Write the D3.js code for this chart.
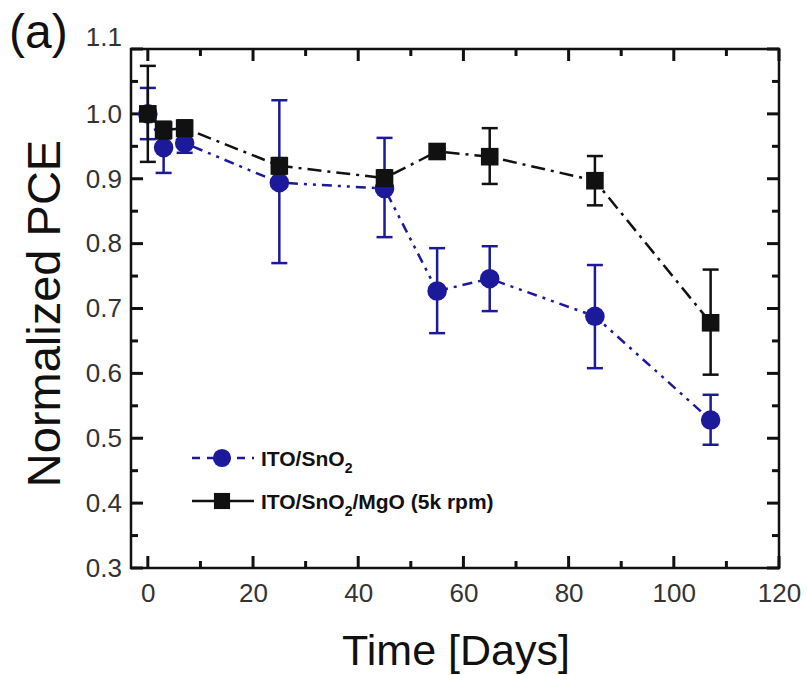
<!DOCTYPE html>
<html>
<head>
<meta charset="utf-8">
<script src="https://cdn.jsdelivr.net/npm/d3@7"></script>
<style>
  body { margin: 0; background: #fff; }
  svg { font-family: Arial, "Liberation Sans", sans-serif; }
</style>
</head>
<body>
<div id="chart"></div>
<script>
'use strict';

// days of measurement
const days = [0, 3, 7, 25, 45, 55, 65, 85, 107];

// ITO/SnO2
const snoMean = [1.0, 0.948, 0.955, 0.894, 0.885, 0.727, 0.746, 0.688, 0.528];
const snoLow = [0.961, 0.909, 0.94, 0.77, 0.81, 0.662, 0.696, 0.608, 0.49];
const snoHigh = [1.04, 0.985, 0.97, 1.021, 0.963, 0.793, 0.796, 0.767, 0.567];

// ITO/SnO2/MgO (5k rpm)
const mgoMean = [1.0, 0.975, 0.978, 0.92, 0.901, 0.942, 0.934, 0.897, 0.678];
const mgoLow = [0.926, 0.962, 0.966, 0.908, 0.889, 0.935, 0.892, 0.859, 0.598];
const mgoHigh = [1.074, 0.988, 0.99, 0.932, 0.913, 0.949, 0.978, 0.935, 0.76];

const xTicks = [0, 20, 40, 60, 80, 100, 120];
const xMinor = [10, 30, 50, 70, 90, 110];
const yTicks = [0.3, 0.4, 0.5, 0.6, 0.7, 0.8, 0.9, 1.0, 1.1];
const yMinor = [0.35, 0.45, 0.55, 0.65, 0.75, 0.85, 0.95, 1.05];

const width = 807, height = 675;
const margin = { left: 131, right: 28, top: 49, bottom: 107 };
const bottomY = height - margin.bottom;
const rightX = width - margin.right;

const svg = d3.select('#chart').append('svg')
  .attr('width', width)
  .attr('height', height);

const x = d3.scaleLinear().domain([-3.2, 120]).range([margin.left, rightX]);
const y = d3.scaleLinear().domain([0.3, 1.1]).range([bottomY, margin.top]);

const blue = '#1c1a9a';
const black = '#111';

// tick labels through d3 axes (tick marks drawn separately, inward)
const xAxis = svg.append('g')
  .attr('transform', `translate(0,${bottomY})`)
  .call(d3.axisBottom(x).tickValues(xTicks).tickSize(0).tickPadding(14).tickFormat(d3.format('d')));
xAxis.select('.domain').remove();
xAxis.selectAll('.tick text').attr('font-size', 26).attr('fill', '#333').attr('dy', '0.75em');

const yAxis = svg.append('g')
  .attr('transform', `translate(${margin.left},0)`)
  .call(d3.axisLeft(y).tickValues(yTicks).tickSize(0).tickPadding(9).tickFormat(d3.format('.1f')));
yAxis.select('.domain').remove();
yAxis.selectAll('.tick text').attr('font-size', 26).attr('fill', '#333')
  .attr('dy', d => d === 1.1 ? '-0.15em' : '0.32em');

// frame
svg.append('rect')
  .attr('x', margin.left).attr('y', margin.top)
  .attr('width', rightX - margin.left).attr('height', bottomY - margin.top)
  .attr('fill', 'none').attr('stroke', '#111').attr('stroke-width', 2.5);

// inward tick marks on all four sides
const tickMarks = svg.append('g').attr('class', 'tickmarks');
function xMarks(values, len) {
  [[bottomY, -len], [margin.top, len]].forEach(([y0, dir]) => {
    tickMarks.selectAll(null).data(values).join('line')
      .attr('x1', d => x(d)).attr('x2', d => x(d))
      .attr('y1', y0).attr('y2', y0 + dir)
      .attr('stroke', '#111').attr('stroke-width', 3);
  });
}
function yMarks(values, len) {
  [[margin.left, len], [rightX, -len]].forEach(([x0, dir]) => {
    tickMarks.selectAll(null).data(values).join('line')
      .attr('y1', d => y(d)).attr('y2', d => y(d))
      .attr('x1', x0).attr('x2', x0 + dir)
      .attr('stroke', '#111').attr('stroke-width', 3);
  });
}
xMarks(xTicks, 12);
xMarks(xMinor, 7);
yMarks(yTicks, 12);
yMarks(yMinor, 7);

function drawSeries(mean, low, high, color, dash, shape) {
  const pts = days.map((d, i) => ({ d: d, m: mean[i], lo: low[i], hi: high[i] }));
  const g = svg.append('g');
  g.append('path')
    .datum(pts)
    .attr('fill', 'none')
    .attr('stroke', color)
    .attr('stroke-width', 2.5)
    .attr('stroke-dasharray', dash)
    .attr('d', d3.line().x(p => x(p.d)).y(p => y(p.m)));

  const eb = g.selectAll('g.err').data(pts).join('g').attr('class', 'err')
    .attr('stroke', color).attr('stroke-width', 2.5);
  eb.append('line')
    .attr('x1', p => x(p.d)).attr('x2', p => x(p.d))
    .attr('y1', p => y(p.lo)).attr('y2', p => y(p.hi));
  eb.append('line')
    .attr('x1', p => x(p.d) - 8).attr('x2', p => x(p.d) + 8)
    .attr('y1', p => y(p.lo)).attr('y2', p => y(p.lo));
  eb.append('line')
    .attr('x1', p => x(p.d) - 8).attr('x2', p => x(p.d) + 8)
    .attr('y1', p => y(p.hi)).attr('y2', p => y(p.hi));

  g.selectAll('path.mark').data(pts).join('path').attr('class', 'mark')
    .attr('transform', p => `translate(${x(p.d)},${y(p.m)})`)
    .attr('d', d3.symbol().type(shape).size(shape === d3.symbolSquare ? 310 : 300))
    .attr('fill', color);
}

drawSeries(snoMean, snoLow, snoHigh, blue, '10,6,3,6,3,6', d3.symbolCircle);
drawSeries(mgoMean, mgoLow, mgoHigh, black, '14,6,3,6', d3.symbolSquare);

// legend
const legend = svg.append('g').attr('font-weight', 'bold').attr('font-size', 21);
const legendRows = [
  { color: blue, shape: d3.symbolCircle, dash: '8,7', label: 'ITO/SnO', sub: '2', rest: '', y: 458 },
  { color: black, shape: d3.symbolSquare, dash: null, label: 'ITO/SnO', sub: '2', rest: '/MgO (5k rpm)', y: 501 }
];
legendRows.forEach(r => {
  legend.append('line')
    .attr('x1', 192).attr('x2', 254).attr('y1', r.y).attr('y2', r.y)
    .attr('stroke', r.color).attr('stroke-width', 2.5)
    .attr('stroke-dasharray', r.dash);
  legend.append('path')
    .attr('transform', `translate(222,${r.y})`)
    .attr('d', d3.symbol().type(r.shape).size(260))
    .attr('fill', r.color);
  const t = legend.append('text').attr('x', 261).attr('y', r.y + 8).attr('fill', '#111');
  t.append('tspan').text(r.label);
  t.append('tspan').attr('font-size', 14).attr('dy', 7).text(r.sub);
  if (r.rest) t.append('tspan').attr('dy', -7).text(r.rest);
});

// titles
svg.append('text').attr('x', 9).attr('y', 48)
  .attr('font-size', 48).attr('fill', '#111').text('(a)');

svg.append('text')
  .attr('transform', `translate(60,${(margin.top + bottomY) / 2 + 5}) rotate(-90)`)
  .attr('text-anchor', 'middle')
  .attr('font-size', 47).attr('fill', '#111')
  .text('Normalized PCE');

svg.append('text')
  .attr('x', 456).attr('y', 665)
  .attr('text-anchor', 'middle')
  .attr('font-size', 43).attr('fill', '#111')
  .text('Time [Days]');
</script>
</body>
</html>
